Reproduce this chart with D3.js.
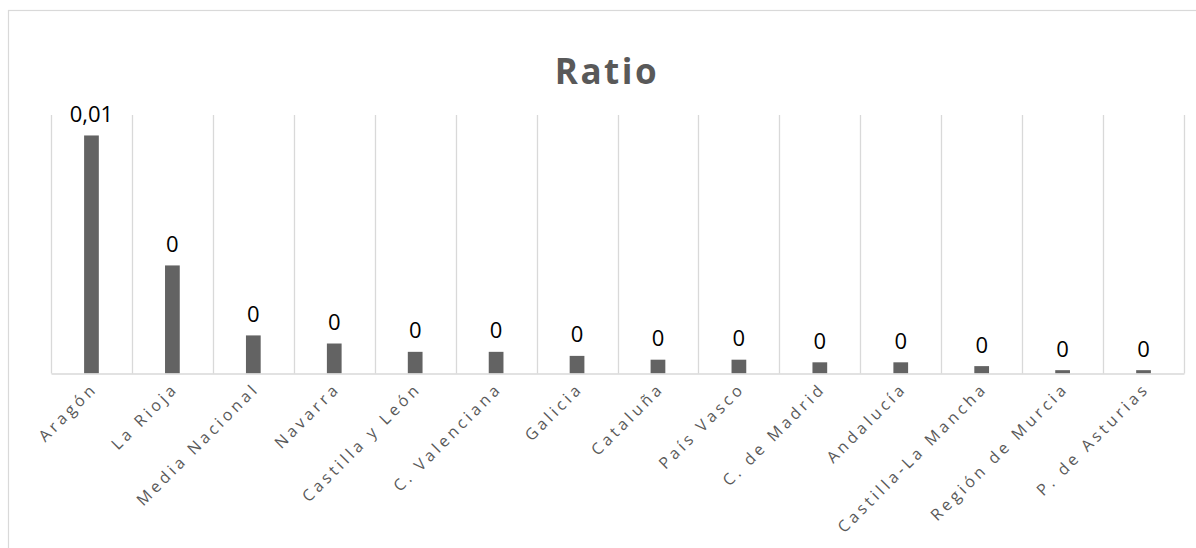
<!DOCTYPE html>
<html>
<head>
<meta charset="utf-8">
<script src="https://cdn.jsdelivr.net/npm/d3@7/dist/d3.min.js"></script>
<style>
  html, body { margin: 0; padding: 0; background: #fff; }
  svg { display: block; }
</style>
</head>
<body>
<svg id="chart" width="1196" height="548"></svg>
<script>
// Ratio by autonomous community
const categories = [
  "Aragón", "La Rioja", "Media Nacional", "Navarra", "Castilla y León",
  "C. Valenciana", "Galicia", "Cataluña", "País Vasco", "C. de Madrid",
  "Andalucía", "Castilla-La Mancha", "Región de Murcia", "P. de Asturias"
];
const ratios = [
  0.01, 0.00454, 0.0016, 0.00126, 0.00091,
  0.00091, 0.00074, 0.00058, 0.00058, 0.00047,
  0.00047, 0.00031, 0.00014, 0.00014
];
const titleText = "Ratio";

const svg = d3.select("#chart");
const plot = { left: 51, right: 1184, top: 115, bottom: 373.5 };

// chart area frame (continues past the right and bottom edges)
svg.append("rect")
  .attr("x", 8.5).attr("y", 10.5)
  .attr("width", 1210).attr("height", 600)
  .attr("fill", "#fff").attr("stroke", "#d9d9d9").attr("stroke-width", 1.2);

const x = d3.scaleBand().domain(categories).range([plot.left, plot.right]).paddingInner(0).paddingOuter(0);
const y = d3.scaleLinear().domain([0, 0.01086]).range([plot.bottom, plot.top]);

const esLocale = d3.formatLocale({ decimal: ",", thousands: ".", grouping: [3], currency: ["", " €"] });
const fmt = esLocale.format(".2~f");

// vertical gridlines at category boundaries
const bounds = categories.map(c => x(c)).concat([x(categories[categories.length - 1]) + x.step()]);
svg.append("g").selectAll("line").data(bounds).join("line")
  .attr("x1", d => Math.round(d) + 0.5).attr("x2", d => Math.round(d) + 0.5)
  .attr("y1", plot.top).attr("y2", plot.bottom)
  .attr("stroke", "#d9d9d9").attr("stroke-width", 1.3);

// bars
const barW = x.bandwidth() * 0.182;
svg.append("g").selectAll("rect").data(categories).join("rect")
  .attr("x", (d) => x(d) + x.bandwidth() / 2 - barW / 2)
  .attr("y", (d, i) => y(ratios[i]))
  .attr("width", barW)
  .attr("height", (d, i) => y(0) - y(ratios[i]))
  .attr("fill", "#636363");

// category axis
const axis = svg.append("g")
  .attr("transform", `translate(0,${plot.bottom})`)
  .call(d3.axisBottom(x).tickSize(0).tickPadding(0));
axis.select(".domain").attr("stroke", "#d9d9d9").attr("stroke-width", 1.5);
axis.selectAll("text")
  .attr("font-family", "'Open Sans', sans-serif")
  .attr("font-size", 16)
  .attr("letter-spacing", "3.6px")
  .attr("fill", "#595959")
  .attr("text-anchor", "end")
  .attr("dy", 0)
  .attr("y", 0)
  .attr("transform", "translate(7,16) rotate(-45)");

// data labels
svg.append("g").selectAll("text").data(categories).join("text")
  .attr("x", d => x(d) + x.bandwidth() / 2)
  .attr("y", (d, i) => y(ratios[i]) - 13.5)
  .attr("text-anchor", "middle")
  .attr("font-family", "'Open Sans', sans-serif")
  .attr("font-size", 22)
  .attr("fill", "#000")
  .text((d, i) => fmt(ratios[i]));

// title
svg.append("text")
  .attr("x", 607).attr("y", 84)
  .attr("text-anchor", "middle")
  .attr("font-family", "'Open Sans', sans-serif")
  .attr("font-weight", 700)
  .attr("font-size", 35)
  .attr("letter-spacing", "2.5px")
  .attr("fill", "#595959")
  .text(titleText);
</script>
</body>
</html>
